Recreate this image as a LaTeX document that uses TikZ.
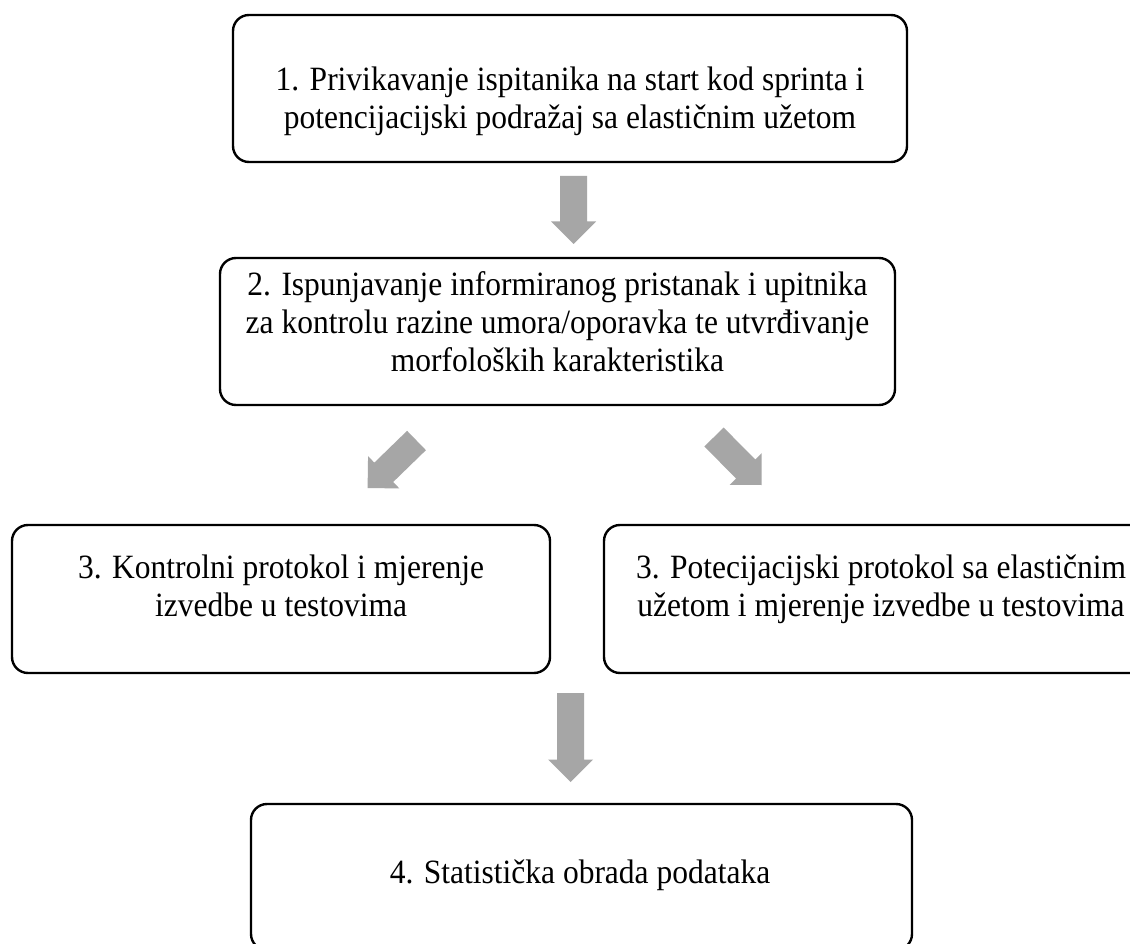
\documentclass[tikz,border=0pt]{standalone}
\usepackage{fontspec}
\usepackage{graphicx}
\setmainfont{Liberation Serif}
\usetikzlibrary{calc}
\definecolor{arrowgray}{HTML}{A6A6A6}
\tikzset{
  stepbox/.style={draw=black, line width=2.4pt, rounded corners=16pt, inner sep=0pt},
  steptext/.style={inner sep=0pt, font=\fontsize{31.5}{35}\selectfont},
  arrowfill/.style={fill=arrowgray, draw=none}
}
\newcommand\vtext[1]{\scalebox{1}[1.08]{\begin{tabular}{@{}c@{}}#1\end{tabular}}}
\newcommand\blockarrow[2]{%
  \path coordinate (bah) at ($(#2)!22.5pt!(#1)$);
  \fill[arrowfill] ($(#1)!13.5pt!90:(#2)$) -- ($(bah)!13.5pt!90:(#2)$) -- ($(bah)!22.5pt!90:(#2)$)
    -- (#2) -- ($(bah)!22.5pt!-90:(#2)$) -- ($(bah)!13.5pt!-90:(#2)$) -- ($(#1)!13.5pt!-90:(#2)$) -- cycle;}
\begin{document}
\begin{tikzpicture}[x=1pt,y=-1pt]
\useasboundingbox (0,0) rectangle (1130,944);
\clip (0,0) rectangle (1130,944);
\fill[white] (0,0) rectangle (1130,944);
\node[stepbox, minimum width=674pt, minimum height=147pt] (b1) at (570,88.5) {};
\node[steptext] (t1) at (570,102)
  {\vtext{1. Privikavanje ispitanika na start kod sprinta i\\potencijacijski podražaj sa elastičnim užetom}};
\node[stepbox, minimum width=675pt, minimum height=147pt] (b2) at (557.5,331.5) {};
\node[steptext] (t2) at (557.5,326)
  {\vtext{2. Ispunjavanje informiranog pristanak i upitnika\\za kontrolu razine umora/oporavka te utvrđivanje\\morfoloških karakteristika}};
\node[stepbox, minimum width=538pt, minimum height=148pt] (b3l) at (281,599) {};
\node[steptext] (t3l) at (281,590)
  {\vtext{3. Kontrolni protokol i mjerenje\\izvedbe u testovima}};
\node[stepbox, minimum width=554pt, minimum height=148pt] (b3r) at (881,599) {};
\node[steptext] (t3r) at (881,590)
  {\vtext{3. Potecijacijski protokol sa elastičnim\\užetom i mjerenje izvedbe u testovima}};
\node[stepbox, minimum width=661pt, minimum height=146pt] (b4) at (581.5,877) {};
\node[steptext] (t4) at (580,876) {\vtext{4. Statistička obrada podataka}};
\coordinate (a1t) at (573.5,176); \coordinate (a1h) at (573.5,244);
\coordinate (a2t) at (416.5,440.5); \coordinate (a2h) at (367.6,488);
\coordinate (a3t) at (714,437); \coordinate (a3h) at (761.5,485);
\coordinate (a4t) at (570.5,693); \coordinate (a4h) at (570.5,782);
\blockarrow{a1t}{a1h}
\blockarrow{a2t}{a2h}
\blockarrow{a3t}{a3h}
\blockarrow{a4t}{a4h}
\end{tikzpicture}
\end{document}
